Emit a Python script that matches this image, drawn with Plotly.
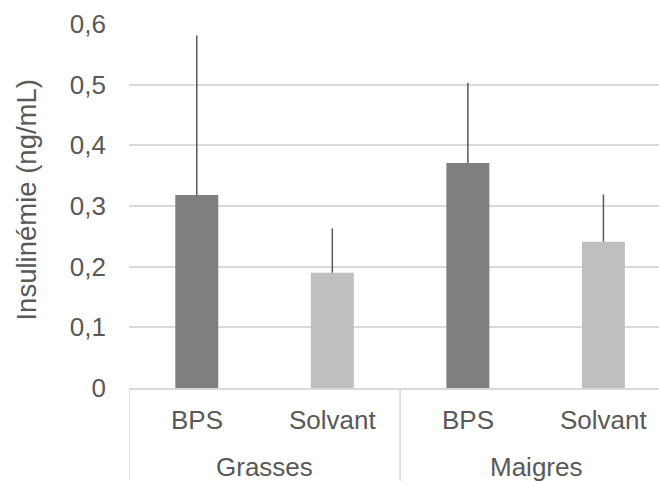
import plotly.graph_objects as go

groups = ["Grasses", "Grasses", "Maigres", "Maigres"]
treatments = ["BPS", "Solvant", "BPS", "Solvant"]
means = [0.318, 0.19, 0.371, 0.241]
err_plus = [0.263, 0.073, 0.132, 0.078]
bar_colors = ["#7f7f7f", "#bfbfbf", "#7f7f7f", "#bfbfbf"]
y_ticks = [0, 0.1, 0.2, 0.3, 0.4, 0.5, 0.6]
y_title = "Insulinémie (ng/mL)"

FONT = "Liberation Sans, Arial, sans-serif"
TXT = "#595959"
FS = 26
GRID = "#d9d9d9"

xpos = list(range(len(treatments)))
X_MAX = 3.41

fig = go.Figure()
fig.add_trace(go.Bar(
    x=xpos,
    y=means,
    marker=dict(color=bar_colors, line=dict(width=0)),
    width=0.317,
    error_y=dict(type="data", symmetric=False, array=err_plus,
                 arrayminus=[0] * len(means), color="#595959",
                 thickness=1.5, width=0),
    hoverinfo="skip",
))

# inner category labels
for xi, t in zip(xpos, treatments):
    fig.add_annotation(x=xi, y=0, xref="x", yref="paper", text=t,
                       showarrow=False, yanchor="middle", yshift=-32,
                       font=dict(family=FONT, size=FS, color=TXT))

# group labels and dividers
bounds = []
start = 0
for i in range(1, len(groups) + 1):
    if i == len(groups) or groups[i] != groups[start]:
        center = (xpos[start] + xpos[i - 1]) / 2
        fig.add_annotation(x=center, y=0, xref="x", yref="paper",
                           text=groups[start], showarrow=False,
                           yanchor="middle", yshift=-79,
                           font=dict(family=FONT, size=FS, color=TXT))
        bounds.append(xpos[start] - 0.5)
        start = i
bounds.append(xpos[-1] + 0.5)
for b in bounds:
    if b <= X_MAX:
        fig.add_shape(type="line", xref="x", yref="paper", x0=b, x1=b,
                      y0=0, y1=-0.3, line=dict(color=GRID, width=1.5),
                      layer="below")

# y-axis title
fig.add_annotation(x=0, y=0.515, xref="paper", yref="paper", text=y_title,
                   showarrow=False, textangle=-90, xanchor="center",
                   yanchor="middle", xshift=-102,
                   font=dict(family=FONT, size=27.5, color=TXT))

fig.update_layout(
    width=659, height=481,
    margin=dict(l=129, r=0, t=24, b=93),
    paper_bgcolor="white", plot_bgcolor="white",
    separators=", ",
    showlegend=False,
    font=dict(family=FONT, size=FS, color=TXT),
    xaxis=dict(
        range=[-0.5, X_MAX],
        showline=True, linecolor=GRID, linewidth=1.5,
        showgrid=False, zeroline=False, ticks="", showticklabels=False,
    ),
    yaxis=dict(
        range=[0, 0.6],
        tickvals=y_ticks,
        showgrid=True, gridcolor=GRID, gridwidth=1.5,
        zeroline=False, showline=False, ticks="",
        ticklabelstandoff=22,
        tickfont=dict(family=FONT, size=FS, color=TXT),
    ),
)

fig.write_html("out.html")
